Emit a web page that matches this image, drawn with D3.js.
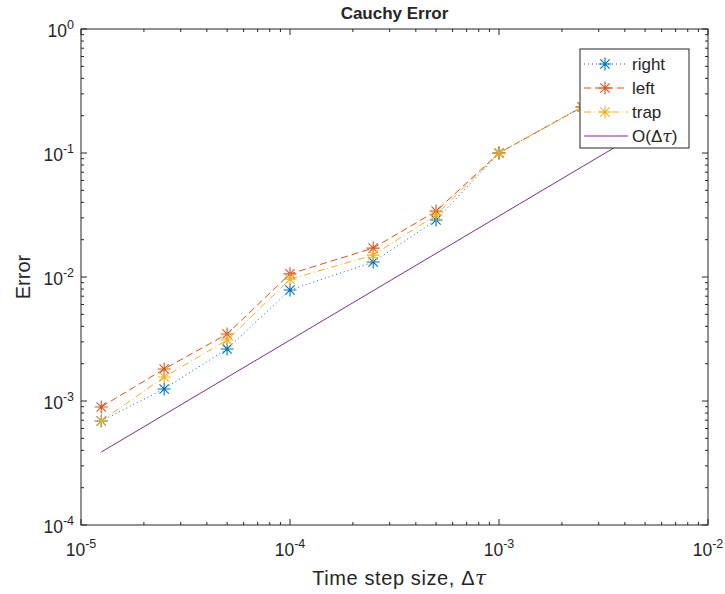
<!DOCTYPE html>
<html><head><meta charset="utf-8">
<script src="https://cdn.jsdelivr.net/npm/d3@7"></script>
<style>
body{margin:0;background:#fff;}
text{font-family:"Liberation Sans",Arial,Helvetica,sans-serif;fill:#262626;}
</style></head>
<body><svg id="chart" width="725" height="594"></svg>
<script>
const stepSizes = [1.25e-5, 2.5e-5, 5e-5, 1e-4, 2.5e-4, 5e-4, 1e-3, 2.5e-3, 5e-3];
const rightErr = [6.9e-4, 1.25e-3, 2.63e-3, 7.86e-3, 0.0132, 0.0288, 0.1, 0.235, 0.45];
const leftErr  = [8.95e-4, 1.81e-3, 3.47e-3, 0.0106, 0.0171, 0.034, 0.1, 0.235, 0.45];
const trapErr  = [6.9e-4, 1.56e-3, 3.10e-3, 9.6e-3, 0.0150, 0.0316, 0.1, 0.235, 0.45];
const orderRef = [3.875e-4, 7.75e-4, 1.55e-3, 3.1e-3, 7.75e-3, 0.0155, 0.031, 0.0775, 0.155];
const xTickExps = [-5, -4, -3, -2];
const yTickExps = [-4, -3, -2, -1, 0];
const seriesNames = ["right", "left", "trap", "O(Δτ)"];

const svg = d3.select("#chart");
const L = 81, R = 708, T = 29, B = 525;
const x = d3.scaleLog().domain([1e-5, 1e-2]).range([L, R]);
const y = d3.scaleLog().domain([1e-4, 1]).range([B, T]);

const axisColor = "#262626";
const series = [
  {name: seriesNames[0], vals: rightErr, color: "#0072BD", dash: "1,3", marker: true},
  {name: seriesNames[1], vals: leftErr, color: "#D95319", dash: "7,4", marker: true},
  {name: seriesNames[2], vals: trapErr, color: "#EDB120", dash: "7,3,1,3", marker: true},
  {name: seriesNames[3], vals: orderRef, color: "#7E2F8E", dash: null, marker: false}
];

svg.append("defs").append("clipPath").attr("id", "clip")
  .append("rect").attr("x", L).attr("y", T).attr("width", R - L).attr("height", B - T);

const plot = svg.append("g").attr("clip-path", "url(#clip)");
const line = d3.line().x((d, i) => x(stepSizes[i])).y(d => y(d));

series.forEach(s => {
  plot.append("path").datum(s.vals).attr("d", line)
    .attr("fill", "none").attr("stroke", s.color).attr("stroke-width", 1)
    .attr("stroke-dasharray", s.dash);
  if (s.marker) {
    const r = 6.5, r2 = r * 0.72;
    plot.selectAll(null).data(s.vals).enter().append("path")
      .attr("d", (d, i) => {
        const cx = x(stepSizes[i]), cy = y(d);
        return `M${cx-r},${cy}L${cx+r},${cy}M${cx},${cy-r}L${cx},${cy+r}` +
               `M${cx-r2},${cy-r2}L${cx+r2},${cy+r2}M${cx-r2},${cy+r2}L${cx+r2},${cy-r2}`;
      })
      .attr("stroke", s.color).attr("stroke-width", 1.1).attr("fill", "none");
  }
});

const ax = svg.append("g");
ax.append("rect").attr("x", L).attr("y", T).attr("width", R - L).attr("height", B - T)
  .attr("fill", "none").attr("stroke", axisColor).attr("stroke-width", 1);

function minorTicks(domainExps) {
  const out = [];
  for (let e = domainExps[0]; e < domainExps[domainExps.length - 1]; e++)
    for (let m = 2; m <= 9; m++) out.push(m * Math.pow(10, e));
  return out;
}
const majLen = 6, minLen = 3;
const tickFont = 17.5, expFont = 12.5;
xTickExps.forEach(e => {
  const px = x(Math.pow(10, e));
  ax.append("line").attr("x1", px).attr("x2", px).attr("y1", B).attr("y2", B - majLen).attr("stroke", axisColor);
  ax.append("line").attr("x1", px).attr("x2", px).attr("y1", T).attr("y2", T + majLen).attr("stroke", axisColor);
  const t = ax.append("text").attr("x", px).attr("y", B + 31).attr("text-anchor", "middle").attr("font-size", tickFont);
  t.append("tspan").text("10");
  t.append("tspan").attr("dy", -8).attr("font-size", expFont).text(String(e));
});
minorTicks(xTickExps).forEach(v => {
  const px = x(v);
  ax.append("line").attr("x1", px).attr("x2", px).attr("y1", B).attr("y2", B - minLen).attr("stroke", axisColor);
  ax.append("line").attr("x1", px).attr("x2", px).attr("y1", T).attr("y2", T + minLen).attr("stroke", axisColor);
});
yTickExps.forEach(e => {
  const py = y(Math.pow(10, e));
  ax.append("line").attr("x1", L).attr("x2", L + majLen).attr("y1", py).attr("y2", py).attr("stroke", axisColor);
  ax.append("line").attr("x1", R).attr("x2", R - majLen).attr("y1", py).attr("y2", py).attr("stroke", axisColor);
  const t = ax.append("text").attr("x", L - 7).attr("y", py + 8).attr("text-anchor", "end").attr("font-size", tickFont);
  t.append("tspan").text("10");
  t.append("tspan").attr("dy", -8).attr("font-size", expFont).text(String(e));
});
minorTicks(yTickExps).forEach(v => {
  const py = y(v);
  ax.append("line").attr("x1", L).attr("x2", L + minLen).attr("y1", py).attr("y2", py).attr("stroke", axisColor);
  ax.append("line").attr("x1", R).attr("x2", R - minLen).attr("y1", py).attr("y2", py).attr("stroke", axisColor);
});

svg.append("text").attr("x", (L + R) / 2).attr("y", 19).attr("text-anchor", "middle")
  .attr("font-size", 17).attr("font-weight", "bold").attr("fill", "#000").text("Cauchy Error");
const xl = svg.append("text").attr("x", (L + R) / 2 + 5).attr("y", 585).attr("text-anchor", "middle")
  .attr("font-size", 20).attr("letter-spacing", 0.6);
xl.append("tspan").text("Time step size, Δ");
xl.append("tspan").attr("font-style", "italic").attr("font-family", "DejaVu Serif, serif").text("τ");
svg.append("text").attr("transform", `translate(30,${(T + B) / 2}) rotate(-90)`)
  .attr("text-anchor", "middle").attr("font-size", 20).text("Error");

const lg = svg.append("g");
const lx = 580, ly = 49, lw = 109, lh = 99;
lg.append("rect").attr("x", lx).attr("y", ly).attr("width", lw).attr("height", lh)
  .attr("fill", "#fff").attr("stroke", "#262626").attr("stroke-width", 1);
const rowY = [64, 88, 112, 136];
series.forEach((s, i) => {
  const yy = rowY[i];
  lg.append("line").attr("x1", lx + 4).attr("x2", lx + 48).attr("y1", yy).attr("y2", yy)
    .attr("stroke", s.color).attr("stroke-width", 1).attr("stroke-dasharray", s.dash);
  if (s.marker) {
    const cx = lx + 25, r = 6.5, r2 = r * 0.72;
    lg.append("path").attr("d", `M${cx-r},${yy}L${cx+r},${yy}M${cx},${yy-r}L${cx},${yy+r}` +
      `M${cx-r2},${yy-r2}L${cx+r2},${yy+r2}M${cx-r2},${yy+r2}L${cx+r2},${yy-r2}`)
      .attr("stroke", s.color).attr("stroke-width", 1.1);
  }
  const t = lg.append("text").attr("x", lx + 52).attr("y", yy + 6).attr("font-size", 17).attr("fill", "#000");
  if (i < 3) t.text(s.name);
  else {
    t.append("tspan").text("O(Δ");
    t.append("tspan").attr("font-style", "italic").attr("font-family", "DejaVu Serif, serif").text("τ");
    t.append("tspan").text(")");
  }
});
</script></body></html>
